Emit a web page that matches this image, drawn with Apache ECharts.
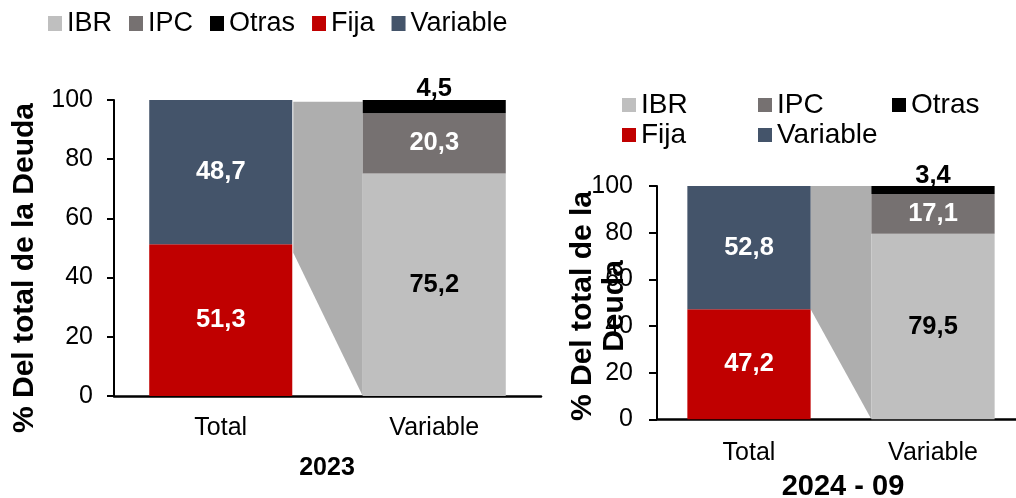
<!DOCTYPE html>
<html>
<head>
<meta charset="utf-8">
<script src="https://cdn.jsdelivr.net/npm/echarts@6/dist/echarts.min.js"></script>
<style>
html,body{margin:0;padding:0;background:#fff;overflow:hidden;width:1016px;height:498px;}
#chart{width:1030px;height:498px;}
</style>
</head>
<body>
<div id="chart"></div>
<script>
// ---- data ----
const categories = ['Total', 'Variable'];
const seriesNames = ['IBR', 'IPC', 'Otras', 'Fija', 'Variable'];
// panel 2023
const ibr2023 = [null, 75.2];
const ipc2023 = [null, 20.3];
const otras2023 = [null, 4.5];
const fija2023 = [51.3, null];
const variable2023 = [48.7, null];
// connector (from Total bar to Variable bar): [catIndex, topLeft, bottomLeft, topRight, bottomRight]
const connector2023 = [0, 99.4, 48.4, 99.4, 0];
// panel 2024 - 09
const ibr2024 = [null, 79.5];
const ipc2024 = [null, 17.1];
const otras2024 = [null, 3.4];
const fija2024 = [47.2, null];
const variable2024 = [52.8, null];
const connector2024 = [0, 100, 47.2, 100, 0];
const panelTitles = ['2023', '2024 - 09'];
const axisTitle = '% Del total de la Deuda';
const axisTitleWrapped = '% Del total de la\nDeuda';

// ---- style ----
const FONT = 'Liberation Sans, Arial, sans-serif';
const colors = {IBR:'#BFBFBF', IPC:'#767171', Otras:'#000000', Fija:'#C00000', Variable:'#44546A'};
const labelColors = {IBR:'#000', IPC:'#fff', Otras:'#000', Fija:'#fff', Variable:'#fff'};
const BARW = 0.67;

function fmt(p){ return p.value == null ? '' : Number(p.value).toFixed(1).replace('.', ','); }

function panelSeries(gi, vals, conn, gapL, topDist){
  const out = seriesNames.map((n, i) => ({
    name: n, type: 'bar', stack: 's' + gi,
    xAxisIndex: gi, yAxisIndex: gi,
    barWidth: (BARW*100) + '%',
    data: vals[i],
    itemStyle: {color: colors[n]},
    label: {
      show: true,
      position: n === 'Otras' ? 'top' : 'inside',
      distance: n === 'Otras' ? topDist : 5,
      formatter: fmt,
      color: labelColors[n],
      fontSize: 25.5, fontWeight: 'bold', fontFamily: FONT
    },
    emphasis: {disabled: true}
  }));
  out.push({
    type: 'custom', xAxisIndex: gi, yAxisIndex: gi, z: 1,
    silent: true,
    data: [conn],
    renderItem: function(params, api){
      const c = api.value(0);
      const band = api.size([1, 0])[0];
      const half = band * BARW / 2;
      const xl = api.coord([c, 0])[0] + half + gapL;
      const xr = api.coord([c + 1, 0])[0] - half;
      const yTL = api.coord([c, api.value(1)])[1];
      const yBL = api.coord([c, api.value(2)])[1];
      const yTR = api.coord([c, api.value(3)])[1];
      const yBR = api.coord([c, api.value(4)])[1];
      return {type:'polygon', shape:{points:[[xl,yTL],[xr,yTR],[xr,yBR],[xl,yBL]]}, style:{fill:'#AEAEAE'}};
    }
  });
  return out;
}

function yAx(gi, margin, tickLen){
  return {
    type: 'value', gridIndex: gi, min: 0, max: 100, interval: 20,
    axisLine: {show: true, lineStyle: {color: '#000', width: 2}},
    axisTick: {show: true, length: tickLen, lineStyle: {color: '#000', width: 2}},
    splitLine: {show: false},
    axisLabel: {color: '#000', fontSize: 25, fontFamily: FONT, margin: margin}
  };
}
function xAx(gi, margin){
  return {
    type: 'category', gridIndex: gi, data: categories,
    axisLine: {show: true, lineStyle: {color: '#000', width: 2.5}},
    axisTick: {show: false},
    axisLabel: {color: '#000', fontSize: 25, fontFamily: FONT, margin: margin}
  };
}

const legendText = (fs) => ({color: '#000', fontSize: fs, fontFamily: FONT});

const option = {
  animation: false,
  textStyle: {fontFamily: FONT},
  legend: [
    {data: seriesNames, left: 48, top: 10, padding: 0, icon: 'rect', itemWidth: 14, itemHeight: 15, itemGap: 17, textStyle: legendText(27), selectedMode: false},
    {data: ['IBR', 'Fija'], orient: 'vertical', left: 622, top: 91, padding: 0, icon: 'rect', itemWidth: 14, itemHeight: 14, itemGap: 2, textStyle: legendText(28), selectedMode: false},
    {data: ['IPC', 'Variable'], orient: 'vertical', left: 758, top: 91, padding: 0, icon: 'rect', itemWidth: 14, itemHeight: 14, itemGap: 2, textStyle: legendText(28), selectedMode: false},
    {data: ['Otras'], orient: 'vertical', left: 892, top: 91, padding: 0, icon: 'rect', itemWidth: 14, itemHeight: 14, itemGap: 2, textStyle: legendText(28), selectedMode: false}
  ],
  grid: [
    {left: 114, top: 100, width: 427, height: 296},
    {left: 657, top: 186, width: 368, height: 233.3}
  ],
  xAxis: [xAx(0, 20), xAx(1, 21)],
  yAxis: [yAx(0, 21, 7), yAx(1, 24, 8)],
  series: [].concat(
    panelSeries(0, [ibr2023, ipc2023, otras2023, fija2023, variable2023], connector2023, 1, -2),
    panelSeries(1, [ibr2024, ipc2024, otras2024, fija2024, variable2024], connector2024, 0, -3)
  ),
  graphic: [
    {type: 'text', x: 327, y: 468, style: {text: panelTitles[0], fill: '#000', fontSize: 25, fontWeight: 'bold', fontFamily: FONT, align: 'center', verticalAlign: 'middle'}},
    {type: 'text', x: 843, y: 487, style: {text: panelTitles[1], fill: '#000', fontSize: 29, fontWeight: 'bold', fontFamily: FONT, align: 'center', verticalAlign: 'middle'}},
    {type: 'text', x: 25, y: 268, rotation: Math.PI/2, style: {text: axisTitle, fill: '#000', fontSize: 30, fontWeight: 'bold', fontFamily: FONT, align: 'center', verticalAlign: 'middle'}},
    {type: 'text', x: 599, y: 306, rotation: Math.PI/2, style: {text: axisTitleWrapped, fill: '#000', fontSize: 30, lineHeight: 32, fontWeight: 'bold', fontFamily: FONT, align: 'center', verticalAlign: 'middle'}}
  ]
};

const chart = echarts.init(document.getElementById('chart'), null, {renderer: 'canvas'});
chart.setOption(option);
</script>
</body>
</html>
